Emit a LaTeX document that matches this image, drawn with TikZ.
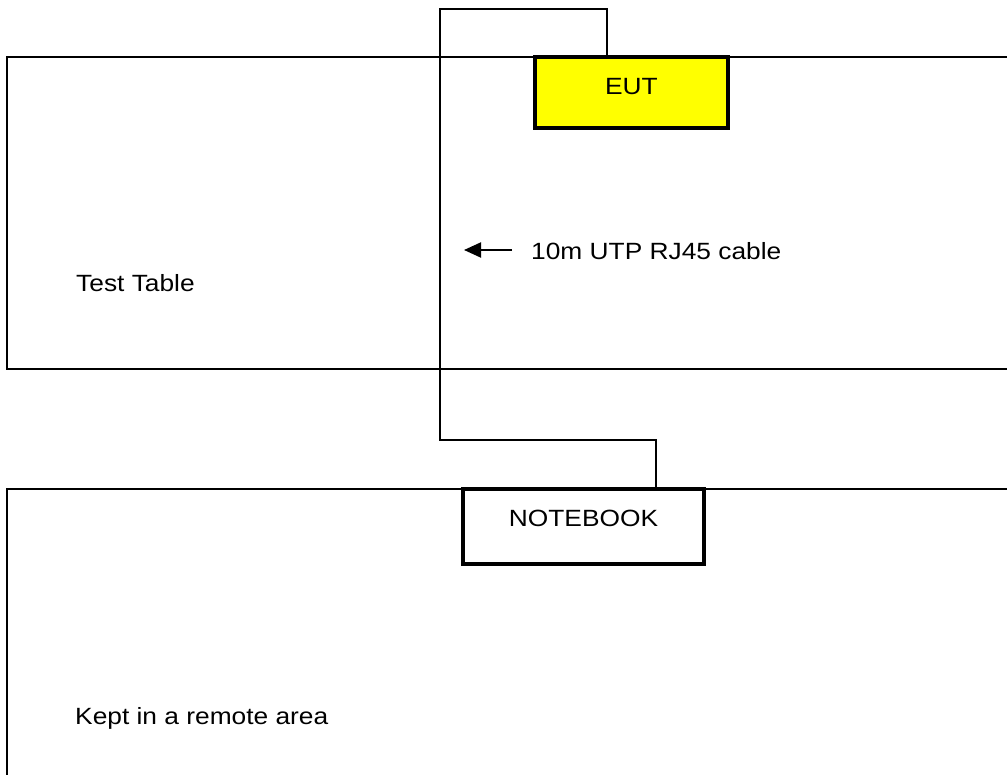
\documentclass[tikz,border=0pt]{standalone}
\usepackage{fontspec}
\setmainfont{Liberation Sans}[FakeStretch=1.12]
\usetikzlibrary{arrows.meta}
\definecolor{eutyellow}{RGB}{255,255,0}
\tikzset{
  tbl/.style={line width=1.4pt, draw=black},
  cable/.style={line width=1.3pt, draw=black},
  devbox/.style={draw=black, line width=3.6pt, rectangle, inner sep=0pt},
  lbl/.style={font=\fontsize{23.5}{28}\selectfont, inner sep=0pt, text=black},
  pointer/.style={line width=2pt, -{Triangle[length=17pt,width=15pt]}}
}
\begin{document}
\begin{tikzpicture}[x=1pt,y=-1pt]
\useasboundingbox (0,0) rectangle (1007,775);
\clip (0,0) rectangle (1007,775);
% test table outline (open to the right)
\draw[tbl] (1010,57) -- (7,57) -- (7,369) -- (1010,369);
% remote area outline (open to the right and bottom)
\draw[tbl] (1010,489) -- (7,489) -- (7,780);
% devices
\node[devbox, fill=eutyellow, minimum width=193pt, minimum height=71pt] (eut) at (631.5,92.5) {};
\node[devbox, fill=white, minimum width=241pt, minimum height=75pt] (nb) at (583.5,526.5) {};
% cable route
\coordinate (c1) at (440,9);
\coordinate (c2) at (440,440);
\draw[cable] ([xshift=-24.5pt]eut.north) |- (c1) -- (c2) -| ([xshift=72.5pt]nb.north);
% boxes drawn again on top of the cable ends
\node[devbox, fill=eutyellow, minimum width=193pt, minimum height=71pt] at (eut.center) {};
\node[devbox, fill=white, minimum width=241pt, minimum height=75pt] at (nb.center) {};
\node[lbl] (eutlbl) at ([yshift=6pt]eut.center) {EUT};
\node[lbl] (nblbl) at ([yshift=8pt]nb.center) {NOTEBOOK};
% pointer
\coordinate (atail) at (512,250);
\coordinate (atip) at (464,250);
\draw[pointer] (atail) -- (atip);
\node[lbl, anchor=west] (cablelbl) at (531,251) {10m UTP RJ45 cable};
\node[lbl, anchor=west] (tt) at (76,283) {Test Table};
\node[lbl, anchor=west] (remote) at (75,718) {Kept in a remote area};
\end{tikzpicture}
\end{document}
